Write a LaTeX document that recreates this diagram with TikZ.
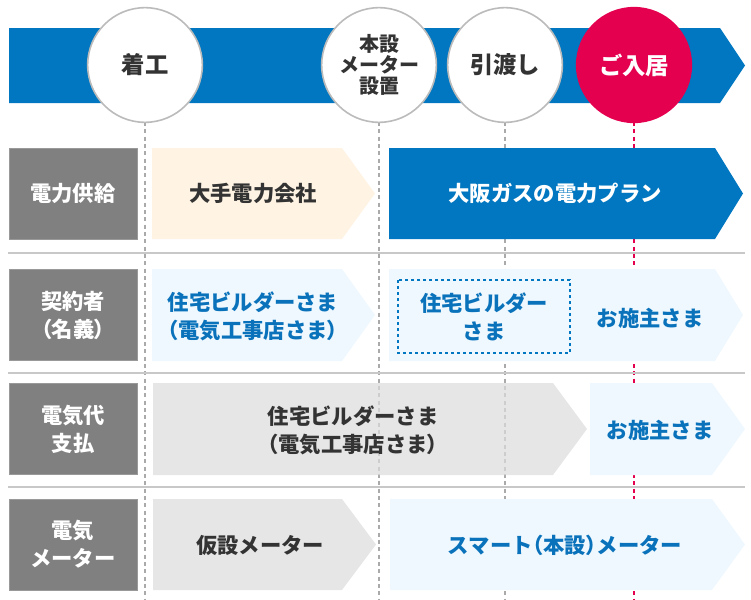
\documentclass[tikz,border=0pt]{standalone}
\usepackage{fontspec}
\setmainfont{Noto Sans CJK JP}
\newfontfamily\paltfont[RawFeature=+palt]{Noto Sans CJK JP}
\newcommand\lp{{\paltfont （}}
\newcommand\rp{{\paltfont ）}}
\definecolor{bandblue}{HTML}{0077C0}
\definecolor{crimson}{HTML}{E4004F}
\definecolor{cream}{HTML}{FFF3E3}
\definecolor{paleblue}{HTML}{EEF8FE}
\definecolor{palegray}{HTML}{E6E6E6}
\definecolor{shadegray}{HTML}{DCDCDC}
\definecolor{labelgray}{HTML}{808080}
\definecolor{ringgray}{HTML}{BBBBBB}
\definecolor{rulegray}{HTML}{C8C8C8}
\definecolor{dashgray}{HTML}{AAAAAA}
\definecolor{darktext}{HTML}{333333}
\definecolor{bluetext}{HTML}{0A72BA}
\begin{document}
\begin{tikzpicture}[x=0.75pt,y=-0.75pt,
    milestone/.style={circle,draw=ringgray,line width=1.2pt,fill=white,minimum size=86pt,inner sep=0pt,align=center,text=darktext,font=\bfseries\fontsize{15}{16}\selectfont},
    rowlabel/.style={fill=labelgray,draw=labelgray!80,minimum width=96pt,minimum height=68.5pt,inner sep=0pt,align=center,text=white,font=\bfseries\fontsize{16}{21}\selectfont},
    body/.style={align=center,font=\bfseries\fontsize{16}{21}\selectfont},
    timeline/.style={dashed,dash pattern=on 3pt off 2.5pt,line width=0.9pt}]
  \useasboundingbox (0,0) rectangle (751,600);

  % timeline band
  \fill [bandblue] (9,28) -- (720,28) -- (745,65.5) -- (720,103) -- (9,103) -- cycle;

  % dashed guides below the milestones
  \draw [timeline,color=dashgray] (145,122) -- (145,600);
  \draw [timeline,color=dashgray] (379,122) -- (379,600);
  \draw [timeline,color=dashgray] (505,122) -- (505,600);
  \draw [timeline,color=crimson] (634,122) -- (634,600);

  % milestones
  \node [milestone,font=\bfseries\fontsize{17.5}{18}\selectfont] (start) at (145,65) {着工};
  \node [milestone] (meter) at (379,65) {本設\\メーター\\設置};
  \node [milestone,font=\bfseries\fontsize{17.5}{18}\selectfont] (handover) at (505,65) {引渡し};
  \node [milestone,fill=crimson,draw=crimson,text=white,font=\bfseries\fontsize{17.5}{18}\selectfont] (movein) at (634,65) {ご入居};

  % separators
  \foreach \sy in {253,373,487}
    \draw [rulegray,line width=1.5pt] (8,\sy) -- (745,\sy);

  % row 1: supply
  \node [rowlabel] (supply) at (73,193.5) {電力供給};
  \fill [cream] (152,148) -- (342,148) -- (375,193.5) -- (342,239) -- (152,239) -- cycle;
  \fill [bandblue] (389,148) -- (715,148) -- (743,193.5) -- (715,239) -- (389,239) -- cycle;
  \node [body,text=darktext] (major) at (253,193.5) {大手電力会社};
  \node [body,text=white] (osaka) at (555,193.5) {大阪ガスの電力プラン};

  % row 2: contractor
  \node [rowlabel] (contract) at (73,315) {契約者\\\lp 名義\rp};
  \fill [paleblue] (152,269) -- (342,269) -- (375,315) -- (342,361) -- (152,361) -- cycle;
  \fill [paleblue] (389,269) -- (715,269) -- (743,315) -- (715,361) -- (389,361) -- cycle;
  \draw [bandblue,dashed,dash pattern=on 2.5pt off 2pt,line width=1pt] (398,280) rectangle (570,353);
  \node [body,text=bluetext] (builder) at (253,316) {住宅ビルダーさま\\\lp 電気工事店さま\rp};
  \node [body,text=bluetext] (builderb) at (484,317) {住宅ビルダー\\さま};
  \node [body,text=bluetext] (owner) at (650,318) {お施主さま};

  % row 3: payment
  \node [rowlabel] (payment) at (73,429) {電気代\\支払};
  \fill [shadegray,fill opacity=0.714] (153,383) -- (553,383) -- (587,429) -- (553,475) -- (153,475) -- cycle;
  \fill [paleblue] (590,383) -- (712,383) -- (745,429) -- (712,475) -- (590,475) -- cycle;
  \node [body,text=darktext] (payer) at (353,430) {住宅ビルダーさま\\\lp 電気工事店さま\rp};
  \node [body,text=bluetext] (ownerb) at (660,430) {お施主さま};

  % row 4: meter
  \node [rowlabel] (meterlabel) at (73,544.5) {電気\\メーター};
  \fill [palegray] (153,499) -- (342,499) -- (376,544.5) -- (342,590) -- (153,590) -- cycle;
  \fill [paleblue] (390,499) -- (712,499) -- (745,544.5) -- (712,590) -- (390,590) -- cycle;
  \node [body,text=darktext] (temp) at (260,545) {仮設メーター};
  \node [body,text=bluetext] (smart) at (565,545) {スマート\lp 本設\rp メーター};
\end{tikzpicture}
\end{document}
